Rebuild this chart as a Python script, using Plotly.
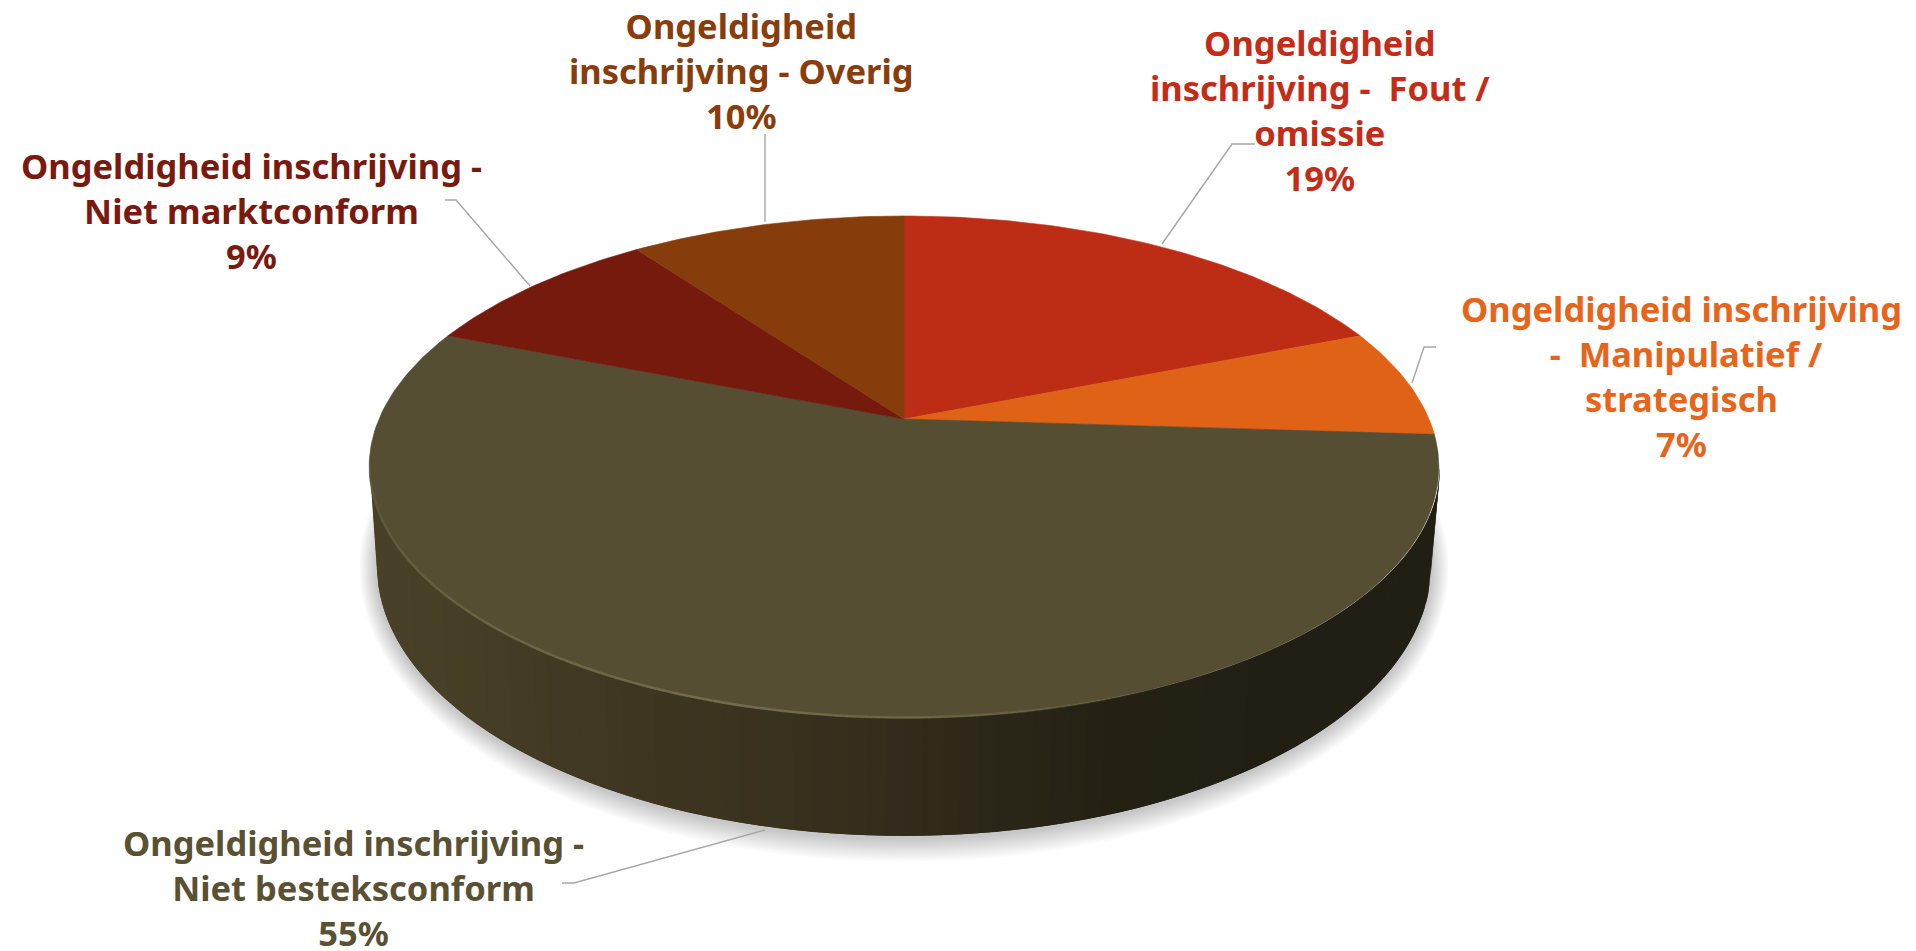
import math
import numpy as np
import plotly.graph_objects as go

# ---- data ----
categories = [
    "Ongeldigheid<br>inschrijving -  Fout /<br>omissie",
    "Ongeldigheid inschrijving<br> -  Manipulatief /<br>strategisch",
    "Ongeldigheid inschrijving -<br>Niet besteksconform",
    "Ongeldigheid inschrijving -<br>Niet marktconform",
    "Ongeldigheid<br>inschrijving - Overig",
]
values = [19, 7, 55, 9, 10]
slice_colors = ["#BD2D16", "#E06216", "#564E32", "#761A0E", "#873C0C"]
text_colors = ["#C42C17", "#E8641A", "#5A5133", "#7A1A0F", "#8A3D0C"]
label_x = [1320, 1681, 353, 251, 741]
label_y = [110, 376, 887, 210, 70]
leader_x = [[1255, 1232, 1162], [1436, 1424, 1412], [562, 574, 765], [445, 456, 530], [765, 765]]
leader_y = [[144, 144, 244], [347, 347, 383], [883, 883, 830], [200, 200, 286], [134, 222]]

# ---- view geometry of the tilted disc ----
CX, CY = 904, 419          # apex
A, B, K = 525, 241.8, 0.191
TOP_E = (905, 467, 535, 251)      # top rim ellipse
BOT_E = (904, 566, 527, 270)      # bottom rim ellipse
SIDE_STOPS_X = [370, 600, 800, 940, 1100, 1250, 1440]
SIDE_STOPS_C = [(74, 66, 40), (64, 56, 34), (56, 49, 30), (47, 42, 26), (37, 34, 21), (34, 32, 20), (33, 31, 19)]


def project(theta):
    X, Y = np.sin(theta), -np.cos(theta)
    w = 1 - K * Y
    return CX + A * X / w, CY + B * Y / w


def ell(e, phi):
    return e[0] + e[2] * np.cos(phi), e[1] + e[3] * np.sin(phi)


fig = go.Figure()
common = dict(mode="lines", hoverinfo="skip", showlegend=False)

# soft shadow
for i in range(14):
    g = 24 - i * 1.7
    px = np.linspace(0, 2 * math.pi, 240)
    xs = BOT_E[0] + (BOT_E[2] + g * 0.75) * np.cos(px)
    ys = BOT_E[1] + 2 + (BOT_E[3] + g) * np.sin(px)
    fig.add_trace(go.Scatter(x=xs, y=ys, fill="toself", fillcolor="rgba(0,0,0,0.014)",
                             line=dict(width=0), **common))

# side wall strips: each strip runs on under the next one, so no seams show
phis = np.linspace(math.pi, 0, 91)
for i in range(len(phis) - 1):
    seg = np.linspace(phis[i], phis[min(i + 2, len(phis) - 1)], 6)
    tx, ty = ell(TOP_E, seg)
    bx, by = ell(BOT_E, seg)
    mid = (tx[0] + ell(TOP_E, phis[i + 1])[0]) / 2
    rgb = [np.interp(mid, SIDE_STOPS_X, [c[j] for c in SIDE_STOPS_C]) for j in range(3)]
    col = "rgb(%d,%d,%d)" % tuple(rgb)
    fig.add_trace(go.Scatter(x=np.r_[tx, bx[::-1], tx[0]], y=np.r_[ty, by[::-1], ty[0]], fill="toself",
                             fillcolor=col, line=dict(width=0), **common))

# top face slices
cum = 0
total = sum(values)
for v, c in zip(values, slice_colors):
    t = np.linspace(cum, cum + v, max(v * 4, 8)) / total * 2 * math.pi
    xs, ys = project(t)
    fig.add_trace(go.Scatter(x=np.r_[CX, xs, CX], y=np.r_[CY, ys, CY], fill="toself",
                             fillcolor=c, line=dict(width=0.6, color=c), **common))
    cum += v

# bevel highlight on the front-left rim
rim = np.linspace(math.pi, math.radians(62), 90)
for p0, p1 in zip(rim[:-1], rim[1:]):
    x0, y0 = ell(TOP_E, p0)
    x1, y1 = ell(TOP_E, p1)
    deg = math.degrees((p0 + p1) / 2)
    alpha = np.interp(deg, [62, 80, 110, 150, 180], [0, 0.55, 0.9, 0.55, 0.15])
    fig.add_trace(go.Scatter(x=[x0, x1], y=[y0 - 0.5, y1 - 0.5],
                             line=dict(width=2.5, color="rgba(120,112,80,%.2f)" % alpha), **common))

# leader lines
for lx, ly in zip(leader_x, leader_y):
    fig.add_trace(go.Scatter(x=lx, y=ly, line=dict(width=1.4, color="#A6A6A6"), **common))

# labels
for cat, v, tc, x, y in zip(categories, values, text_colors, label_x, label_y):
    fig.add_annotation(x=x, y=y, xref="x", yref="y", text=f"<b>{cat}<br>{v}%</b>", showarrow=False,
                       align="center", xanchor="center", yanchor="middle",
                       font=dict(family="Noto Sans", size=34.5, color=tc))

fig.update_layout(
    width=1916, height=951, margin=dict(l=0, r=0, t=0, b=0),
    paper_bgcolor="white", plot_bgcolor="white",
    xaxis=dict(range=[0, 1916], visible=False, fixedrange=True),
    yaxis=dict(range=[951, 0], visible=False, fixedrange=True),
)
fig.write_html("out.html", config={"displayModeBar": False},
               post_script="document.body.style.margin='0';document.body.style.overflow='hidden';")
